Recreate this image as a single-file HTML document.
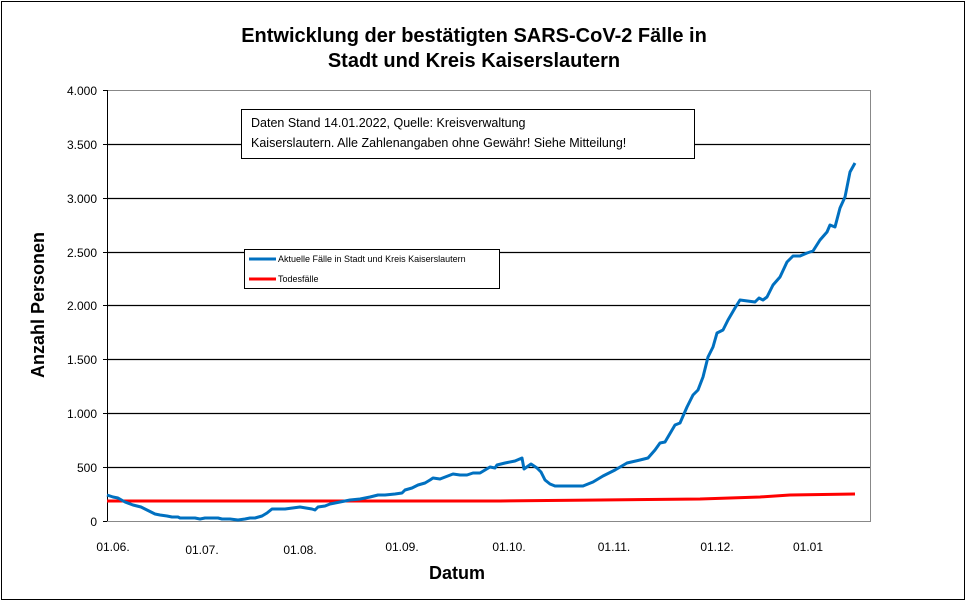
<!DOCTYPE html>
<html><head><meta charset="utf-8"><style>
body{margin:0;background:#fff}
svg text{font-family:"Liberation Sans",Arial,sans-serif}
</style></head><body>
<svg width="967" height="602" viewBox="0 0 967 602" xmlns="http://www.w3.org/2000/svg">
<rect x="1.5" y="1.5" width="963" height="598" fill="#fff" stroke="#000" stroke-width="1"/>
<text x="474" y="42" font-size="20" font-weight="bold" text-anchor="middle">Entwicklung der bestätigten SARS-CoV-2 Fälle in</text>
<text x="474" y="67" font-size="20" font-weight="bold" text-anchor="middle">Stadt und Kreis Kaiserslautern</text>
<g stroke="#000" stroke-width="1.2">
<line x1="107" y1="144.5" x2="870" y2="144.5"/>
<line x1="107" y1="198.5" x2="870" y2="198.5"/>
<line x1="107" y1="252.5" x2="870" y2="252.5"/>
<line x1="107" y1="305.5" x2="870" y2="305.5"/>
<line x1="107" y1="359.5" x2="870" y2="359.5"/>
<line x1="107" y1="413.5" x2="870" y2="413.5"/>
<line x1="107" y1="467.5" x2="870" y2="467.5"/>
</g>
<rect x="107.5" y="90.5" width="763" height="431" fill="none" stroke="#888" stroke-width="1"/>
<line x1="107.5" y1="90" x2="107.5" y2="521" stroke="#000"/>
<g stroke="#000"><line x1="103" y1="90.5" x2="107" y2="90.5"/><line x1="103" y1="144.5" x2="107" y2="144.5"/><line x1="103" y1="198.5" x2="107" y2="198.5"/><line x1="103" y1="252.5" x2="107" y2="252.5"/><line x1="103" y1="305.5" x2="107" y2="305.5"/><line x1="103" y1="359.5" x2="107" y2="359.5"/><line x1="103" y1="413.5" x2="107" y2="413.5"/><line x1="103" y1="467.5" x2="107" y2="467.5"/><line x1="103" y1="521.5" x2="107" y2="521.5"/></g>
<g font-size="12" text-anchor="end">
<text x="97" y="95">4.000</text><text x="97" y="149">3.500</text><text x="97" y="203">3.000</text><text x="97" y="257">2.500</text><text x="97" y="310">2.000</text><text x="97" y="364">1.500</text><text x="97" y="418">1.000</text><text x="97" y="472">500</text><text x="97" y="526">0</text>
</g>
<g font-size="12" text-anchor="middle">
<text x="113" y="551">01.06.</text><text x="202" y="554">01.07.</text><text x="300" y="554">01.08.</text><text x="402" y="551">01.09.</text><text x="509" y="551">01.10.</text><text x="614" y="551">01.11.</text><text x="717" y="551">01.12.</text><text x="808" y="551">01.01</text>
</g>
<text x="457" y="579" font-size="18" font-weight="bold" text-anchor="middle">Datum</text>
<text transform="translate(44,305) rotate(-90)" font-size="18" font-weight="bold" text-anchor="middle">Anzahl Personen</text>
<polyline fill="none" stroke="#ff0000" stroke-width="3" points="107,501 500,501 600,500 700,499 760,497 790,495 855,494"/>
<polyline fill="none" stroke="#0070c0" stroke-width="3" stroke-linejoin="round" points="107,495 113,497 118,498 125,502 133,505 141,507 147,510 155,514 160,515 167,516 172,517 178,517 180,518 195,518 200,519 205,518 218,518 222,519 230,519 238,520 245,519 250,518 255,518 262,516 267,513 272,509 285,509 300,507 312,509 315,510 318,507 325,506 330,504 340,502 350,500 360,499 370,497 378,495 385,495 395,494 402,493 405,490 412,488 418,485 425,483 430,480 433,478 440,479 453,474 460,475 467,475 473,473 480,473 485,470 490,467 495,468 497,465 505,463 515,461 522,458 524,469 531,464 537,468 541,472 545,480 550,484 555,486 583,486 593,482 603,476 615,470 627,463 640,460 648,458 655,450 660,443 665,442 675,425 680,423 687,407 693,395 698,390 703,377 708,357 713,347 717,333 723,330 728,320 735,308 740,300 755,302 759,298 763,300 767,297 773,285 780,277 787,262 793,256 800,256 807,253 813,251 820,240 827,232 830,225 835,227 840,208 845,197 850,172 855,163"/>
<rect x="241.5" y="109.5" width="453" height="49" fill="#fff" stroke="#000" stroke-width="1"/>
<text x="251" y="127" font-size="12.5">Daten Stand 14.01.2022, Quelle: Kreisverwaltung</text>
<text x="251" y="147" font-size="12.5">Kaiserslautern. Alle Zahlenangaben ohne Gewähr! Siehe Mitteilung!</text>
<rect x="244.5" y="249.5" width="255" height="39" fill="#fff" stroke="#000" stroke-width="1"/>
<line x1="249" y1="259" x2="276" y2="259" stroke="#0070c0" stroke-width="3"/>
<line x1="249" y1="279" x2="276" y2="279" stroke="#ff0000" stroke-width="3"/>
<text x="278" y="262" font-size="9">Aktuelle Fälle in Stadt und Kreis Kaiserslautern</text>
<text x="278" y="282" font-size="9">Todesfälle</text>
</svg>
</body></html>
